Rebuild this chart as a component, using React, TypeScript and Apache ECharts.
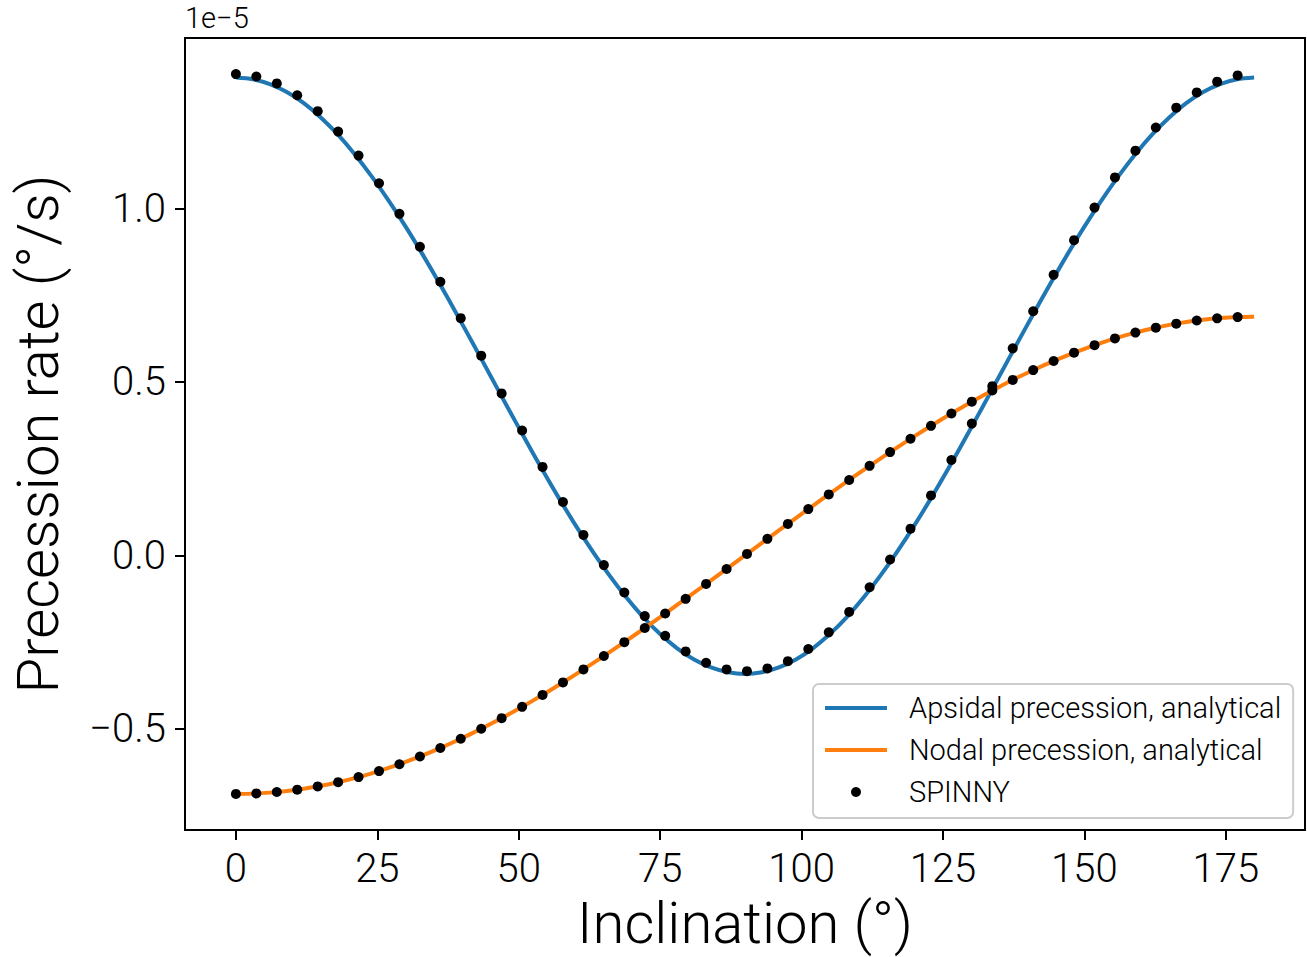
import React, { useEffect, useRef } from "react";
import * as echarts from "echarts";

// Analytical curves, inclination in degrees, rates in units of 1e-5 °/s
const lineInclination = [
  0, 3, 6, 9, 12, 15, 18, 21, 24, 27, 30, 33, 36, 39, 42, 45, 48, 51, 54, 57, 60,
  63, 66, 69, 72, 75, 78, 81, 84, 87, 90, 93, 96, 99, 102, 105, 108, 111, 114, 117,
  120, 123, 126, 129, 132, 135, 138, 141, 144, 147, 150, 153, 156, 159, 162, 165,
  168, 171, 174, 177, 180,
];
const apsidalAnalytical = [
  1.378, 1.373, 1.359, 1.336, 1.304, 1.263, 1.214, 1.157, 1.093, 1.023, 0.948,
  0.868, 0.784, 0.697, 0.608, 0.518, 0.428, 0.339, 0.252, 0.168, 0.088, 0.013,
  -0.057, -0.121, -0.178, -0.227, -0.268, -0.3, -0.323, -0.337, -0.342,
  -0.337, -0.323, -0.3, -0.268, -0.227, -0.178, -0.121, -0.057, 0.013, 0.088,
  0.168, 0.252, 0.339, 0.428, 0.518, 0.608, 0.697, 0.784, 0.868, 0.948, 1.023,
  1.093, 1.157, 1.214, 1.263, 1.304, 1.336, 1.359, 1.373, 1.378,
];
const nodalAnalytical = [
  -0.688, -0.6871, -0.6842, -0.6795, -0.673, -0.6646, -0.6543, -0.6423, -0.6285,
  -0.613, -0.5958, -0.577, -0.5566, -0.5347, -0.5113, -0.4865, -0.4604, -0.433,
  -0.4044, -0.3747, -0.344, -0.3123, -0.2798, -0.2466, -0.2126, -0.1781, -0.143,
  -0.1076, -0.0719, -0.036, 0, 0.036, 0.0719, 0.1076, 0.143, 0.1781, 0.2126,
  0.2466, 0.2798, 0.3123, 0.344, 0.3747, 0.4044, 0.433, 0.4604, 0.4865, 0.5113,
  0.5347, 0.5566, 0.577, 0.5958, 0.613, 0.6285, 0.6423, 0.6543, 0.6646, 0.673,
  0.6795, 0.6842, 0.6871, 0.688,
];

// SPINNY simulation points
const spinnyInclination = [
  0, 3.61, 7.23, 10.84, 14.46, 18.07, 21.68, 25.3, 28.91, 32.53, 36.14, 39.75,
  43.37, 46.98, 50.6, 54.21, 57.82, 61.44, 65.05, 68.67, 72.28, 75.89, 79.51,
  83.12, 86.74, 90.35, 93.96, 97.58, 101.19, 104.81, 108.42, 112.03, 115.65,
  119.26, 122.88, 126.49, 130.1, 133.72, 137.33, 140.95, 144.56, 148.17, 151.79,
  155.4, 159.02, 162.63, 166.24, 169.86, 173.47, 177.09,
];
const spinnyApsidal = [
  1.388, 1.381, 1.361, 1.327, 1.281, 1.222, 1.153, 1.073, 0.985, 0.89, 0.789,
  0.684, 0.576, 0.467, 0.36, 0.255, 0.154, 0.059, -0.028, -0.107, -0.175, -0.232,
  -0.277, -0.31, -0.329, -0.334, -0.326, -0.305, -0.27, -0.222, -0.163, -0.092,
  -0.012, 0.077, 0.173, 0.275, 0.38, 0.488, 0.597, 0.704, 0.809, 0.909, 1.003,
  1.09, 1.167, 1.234, 1.291, 1.335, 1.366, 1.384,
];
const spinnyNodal = [
  -0.688, -0.6866, -0.6825, -0.6757, -0.6662, -0.6541, -0.6393, -0.622, -0.6023,
  -0.5801, -0.5556, -0.5289, -0.5001, -0.4694, -0.4367, -0.4024, -0.3664,
  -0.3289, -0.2902, -0.2503, -0.2094, -0.1677, -0.1253, -0.0824, -0.0392, 0.0042,
  0.0476, 0.0907, 0.1335, 0.1758, 0.2174, 0.2581, 0.2978, 0.3363, 0.3735, 0.4091,
  0.4432, 0.4755, 0.5059, 0.5343, 0.5605, 0.5846, 0.6063, 0.6256, 0.6424, 0.6566,
  0.6683, 0.6772, 0.6835, 0.6871,
];

const xTicks = [0, 25, 50, 75, 100, 125, 150, 175];
const yTicks = [-0.5, 0, 0.5, 1.0];

const seriesNames = [
  "Apsidal precession, analytical",
  "Nodal precession, analytical",
  "SPINNY",
];

const FONT = "Roboto";
const LINE_ICON = "path://M0,0L62,0L62,4L0,4Z";

export default function App() {
  const ref = useRef<HTMLDivElement>(null);

  useEffect(() => {
    if (!ref.current) return;
    const chart = echarts.init(ref.current, null, { renderer: "svg" });

    const apsidalLine = lineInclination.map((x, i) => [x, apsidalAnalytical[i]]);
    const nodalLine = lineInclination.map((x, i) => [x, nodalAnalytical[i]]);
    const spinnyPts = [
      ...spinnyInclination.map((x, i) => [x, spinnyApsidal[i]]),
      ...spinnyInclination.map((x, i) => [x, spinnyNodal[i]]),
    ];

    const fmtY = (v: number) =>
      (v < 0 ? "\u2212" : "") + Math.abs(v).toFixed(1);

    chart.setOption({
      animation: false,
      backgroundColor: "#ffffff",
      textStyle: { fontFamily: FONT, fontWeight: 300 },
      grid: {
        left: 185,
        right: 2,
        top: 38,
        bottom: 125,
        show: true,
        borderColor: "#000",
        borderWidth: 2,
        backgroundColor: "transparent",
      },
      xAxis: {
        type: "value",
        min: -9,
        max: 189,
        name: "Inclination (°)",
        nameLocation: "middle",
        nameGap: 64,
        nameTextStyle: { fontSize: 58, color: "#000", fontFamily: FONT, fontWeight: 300 },
        axisLine: { show: true, onZero: false, lineStyle: { color: "#000", width: 2 } },
        axisTick: { show: true, length: 10, lineStyle: { color: "#000", width: 2 }, customValues: xTicks },
        axisLabel: {
          show: true,
          customValues: xTicks,
          margin: 18,
          fontSize: 40,
          color: "#000",
          fontFamily: FONT,
          fontWeight: 300,
          formatter: (v: number) => String(v),
        },
        splitLine: { show: false },
      },
      yAxis: {
        type: "value",
        min: -0.792,
        max: 1.492,
        name: "Precession rate (°/s)",
        nameLocation: "middle",
        nameRotate: 90,
        nameGap: 118,
        nameTextStyle: { fontSize: 58, color: "#000", fontFamily: FONT, fontWeight: 300 },
        axisLine: { show: true, onZero: false, lineStyle: { color: "#000", width: 2 } },
        axisTick: { show: true, length: 10, lineStyle: { color: "#000", width: 2 }, customValues: yTicks },
        axisLabel: {
          show: true,
          customValues: yTicks,
          margin: 19,
          fontSize: 40,
          color: "#000",
          fontFamily: FONT,
          fontWeight: 300,
          formatter: fmtY,
        },
        splitLine: { show: false },
      },
      legend: {
        show: true,
        orient: "vertical",
        left: 813,
        top: 684,
        itemWidth: 62,
        itemHeight: 10,
        itemGap: 12,
        padding: [9, 12, 11, 12],
        backgroundColor: "rgba(255,255,255,0.8)",
        borderColor: "#cccccc",
        borderWidth: 2,
        borderRadius: 6,
        data: [
          { name: seriesNames[0], icon: LINE_ICON, itemStyle: { color: "#1f77b4" } },
          { name: seriesNames[1], icon: LINE_ICON, itemStyle: { color: "#ff7f0e" } },
          { name: seriesNames[2], icon: "circle", itemStyle: { color: "#000", opacity: 1 } },
        ],
        textStyle: {
          fontSize: 29,
          lineHeight: 30,
          color: "#000",
          fontFamily: FONT,
          fontWeight: 300,
          padding: [0, 0, 0, 17],
        },
      },
      graphic: [
        {
          type: "text",
          left: 185,
          top: 3,
          style: {
            text: "1e\u22125",
            fontSize: 29,
            fontFamily: FONT,
            fontWeight: 300,
            fill: "#000",
          },
        },
      ],
      series: [
        {
          name: seriesNames[0],
          type: "line",
          data: apsidalLine,
          smooth: 0.3,
          showSymbol: false,
          symbol: "none",
          lineStyle: { color: "#1f77b4", width: 4 },
          itemStyle: { color: "#1f77b4" },
          z: 2,
        },
        {
          name: seriesNames[1],
          type: "line",
          data: nodalLine,
          smooth: 0.3,
          showSymbol: false,
          symbol: "none",
          lineStyle: { color: "#ff7f0e", width: 4 },
          itemStyle: { color: "#ff7f0e" },
          z: 3,
        },
        {
          name: seriesNames[2],
          type: "scatter",
          data: spinnyPts,
          symbol: "circle",
          symbolSize: 10,
          itemStyle: { color: "#000", opacity: 1 },
          z: 4,
        },
      ],
    });

    return () => chart.dispose();
  }, []);

  return (
    <div
      ref={ref}
      style={{ position: "fixed", left: 0, top: 0, width: 1307, height: 957 }}
    />
  );
}
